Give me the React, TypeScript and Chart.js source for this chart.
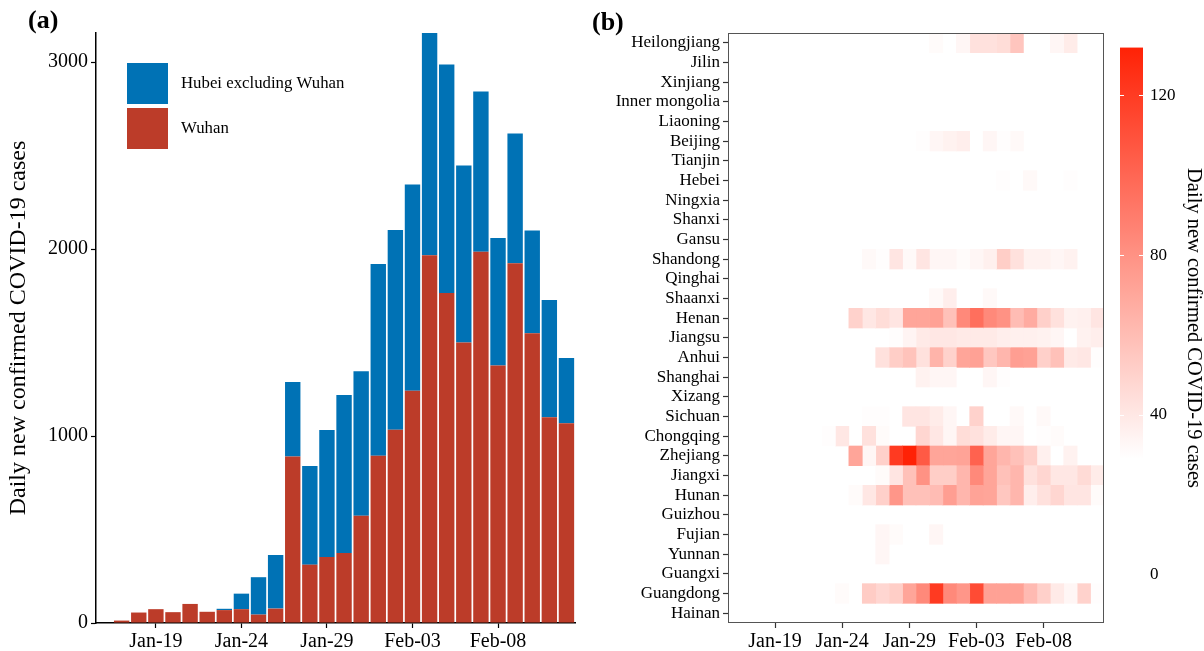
import React, { useEffect, useRef } from "react";
import { Chart, registerables } from "chart.js";

Chart.register(...registerables);

const FONT = "'Liberation Serif', 'DejaVu Serif', 'Times New Roman', serif";
Chart.defaults.font.family = FONT;
Chart.defaults.color = "#000";

// ---------- Panel (a) data ----------
const DATES = [
  "Jan-16", "Jan-17", "Jan-18", "Jan-19", "Jan-20", "Jan-21", "Jan-22",
  "Jan-23", "Jan-24", "Jan-25", "Jan-26", "Jan-27", "Jan-28", "Jan-29",
  "Jan-30", "Jan-31", "Feb-01", "Feb-02", "Feb-03", "Feb-04", "Feb-05",
  "Feb-06", "Feb-07", "Feb-08", "Feb-09", "Feb-10", "Feb-11", "Feb-12",
];
const TICK_DATES = ["Jan-19", "Jan-24", "Jan-29", "Feb-03", "Feb-08"];
const Y_TICKS_A = [0, 1000, 2000, 3000];
const Y_MAX_A = 3156;

const WUHAN = [0, 13, 56, 74, 58, 102, 60, 69, 74, 45, 77, 891, 312, 353, 375, 574, 895, 1034, 1242, 1967, 1765, 1500, 1986, 1377, 1924, 1550, 1101, 1069];
const HUBEI_EXCL_WUHAN = [0, 0, 0, 0, 0, 0, 0, 7, 83, 200, 287, 398, 528, 679, 845, 773, 1025, 1068, 1104, 1189, 1222, 947, 857, 682, 694, 549, 627, 348];

// ---------- Panel (b) data ----------
const PROVINCES = [
  "Heilongjiang", "Jilin", "Xinjiang", "Inner mongolia", "Liaoning", "Beijing",
  "Tianjin", "Hebei", "Ningxia", "Shanxi", "Gansu", "Shandong", "Qinghai",
  "Shaanxi", "Henan", "Jiangsu", "Anhui", "Shanghai", "Xizang", "Sichuan",
  "Chongqing", "Zhejiang", "Jiangxi", "Hunan", "Guizhou", "Fujian", "Yunnan",
  "Guangxi", "Guangdong", "Hainan",
];

const HEILONGJIANG = [0, 0, 0, 0, 0, 0, 0, 0, 0, 0, 0, 0, 0, 0, 0, 31, 0, 33, 43, 43, 45, 56, 0, 0, 33, 38, 0, 0];
const JILIN = [0, 0, 0, 0, 0, 0, 0, 0, 0, 0, 0, 0, 0, 0, 0, 0, 0, 0, 0, 0, 0, 0, 0, 0, 0, 0, 0, 0];
const XINJIANG = [0, 0, 0, 0, 0, 0, 0, 0, 0, 0, 0, 0, 0, 0, 0, 0, 0, 0, 0, 0, 0, 0, 0, 0, 0, 0, 0, 0];
const INNER_MONGOLIA = [0, 0, 0, 0, 0, 0, 0, 0, 0, 0, 0, 0, 0, 0, 0, 0, 0, 0, 0, 0, 0, 0, 0, 0, 0, 0, 0, 0];
const LIAONING = [0, 0, 0, 0, 0, 0, 0, 0, 0, 0, 0, 0, 0, 0, 0, 0, 0, 0, 0, 0, 0, 0, 0, 0, 0, 0, 0, 0];
const BEIJING = [0, 0, 0, 0, 0, 0, 0, 0, 0, 0, 0, 0, 0, 0, 30, 33, 35, 37, 0, 33, 30, 32, 0, 0, 0, 0, 0, 0];
const TIANJIN = [0, 0, 0, 0, 0, 0, 0, 0, 0, 0, 0, 0, 0, 0, 0, 0, 0, 0, 0, 0, 0, 0, 0, 0, 0, 0, 0, 0];
const HEBEI = [0, 0, 0, 0, 0, 0, 0, 0, 0, 0, 0, 0, 0, 0, 0, 0, 0, 0, 0, 0, 30, 0, 32, 0, 0, 30, 0, 0];
const NINGXIA = [0, 0, 0, 0, 0, 0, 0, 0, 0, 0, 0, 0, 0, 0, 0, 0, 0, 0, 0, 0, 0, 0, 0, 0, 0, 0, 0, 0];
const SHANXI = [0, 0, 0, 0, 0, 0, 0, 0, 0, 0, 0, 0, 0, 0, 0, 0, 0, 0, 0, 0, 0, 0, 0, 0, 0, 0, 0, 0];
const GANSU = [0, 0, 0, 0, 0, 0, 0, 0, 0, 0, 0, 0, 0, 0, 0, 0, 0, 0, 0, 0, 0, 0, 0, 0, 0, 0, 0, 0];
const SHANDONG = [0, 0, 0, 0, 0, 0, 0, 0, 0, 0, 32, 30, 41, 32, 41, 33, 33, 31, 33, 36, 52, 43, 35, 35, 33, 35, 0, 0];
const QINGHAI = [0, 0, 0, 0, 0, 0, 0, 0, 0, 0, 0, 0, 0, 0, 0, 0, 0, 0, 0, 0, 0, 0, 0, 0, 0, 0, 0, 0];
const SHAANXI = [0, 0, 0, 0, 0, 0, 0, 0, 0, 0, 0, 0, 0, 0, 0, 32, 37, 0, 0, 32, 0, 0, 0, 0, 0, 0, 0, 0];
const HENAN = [0, 0, 0, 0, 0, 0, 0, 0, 0, 50, 40, 45, 41, 71, 71, 73, 58, 84, 96, 84, 80, 60, 68, 51, 43, 35, 36, 41];
const JIANGSU = [0, 0, 0, 0, 0, 0, 0, 0, 0, 0, 0, 0, 30, 34, 39, 40, 40, 39, 39, 39, 37, 36, 36, 35, 33, 0, 35, 37];
const ANHUI = [0, 0, 0, 0, 0, 0, 0, 0, 0, 0, 0, 43, 52, 57, 43, 64, 50, 71, 73, 55, 63, 74, 73, 51, 58, 39, 40, 30];
const SHANGHAI = [0, 0, 0, 0, 0, 0, 0, 0, 0, 0, 0, 0, 0, 0, 35, 33, 33, 0, 0, 33, 30, 0, 0, 0, 0, 0, 0, 0];
const XIZANG = [0, 0, 0, 0, 0, 0, 0, 0, 0, 0, 0, 0, 0, 0, 0, 0, 0, 0, 0, 0, 0, 0, 0, 0, 0, 0, 0, 0];
const SICHUAN = [0, 0, 0, 0, 0, 0, 0, 0, 0, 0, 30, 30, 0, 41, 41, 38, 33, 0, 50, 0, 0, 32, 0, 32, 0, 0, 0, 0];
const CHONGQING = [0, 0, 0, 0, 0, 0, 0, 30, 40, 0, 43, 31, 0, 0, 48, 40, 33, 45, 43, 38, 33, 33, 0, 30, 31, 0, 0, 0];
const ZHEJIANG = [0, 0, 0, 0, 0, 0, 0, 0, 0, 71, 33, 51, 121, 133, 106, 71, 71, 72, 102, 71, 63, 58, 51, 36, 0, 35, 0, 0];
const JIANGXI = [0, 0, 0, 0, 0, 0, 0, 0, 0, 0, 0, 31, 41, 58, 80, 52, 52, 63, 84, 71, 58, 63, 43, 48, 40, 40, 46, 38];
const HUNAN = [0, 0, 0, 0, 0, 0, 0, 0, 0, 31, 40, 51, 78, 58, 58, 60, 74, 63, 72, 71, 55, 63, 37, 43, 48, 41, 41, 31];
const GUIZHOU = [0, 0, 0, 0, 0, 0, 0, 0, 0, 0, 0, 0, 0, 0, 0, 0, 0, 0, 0, 0, 0, 0, 0, 0, 0, 0, 0, 0];
const FUJIAN = [0, 0, 0, 0, 0, 0, 0, 0, 0, 0, 0, 33, 31, 0, 0, 33, 0, 0, 0, 0, 0, 0, 0, 0, 0, 0, 0, 0];
const YUNNAN = [0, 0, 0, 0, 0, 0, 0, 0, 0, 0, 0, 33, 0, 0, 0, 0, 0, 0, 0, 0, 0, 0, 0, 0, 0, 0, 0, 0];
const GUANGXI = [0, 0, 0, 0, 0, 0, 0, 0, 0, 0, 0, 0, 0, 0, 0, 0, 0, 0, 0, 0, 0, 0, 0, 0, 0, 0, 0, 0];
const GUANGDONG = [0, 0, 0, 0, 0, 0, 0, 0, 31, 0, 53, 48, 52, 71, 84, 121, 84, 78, 113, 73, 73, 73, 61, 51, 39, 33, 50, 30];
const HAINAN = [0, 0, 0, 0, 0, 0, 0, 0, 0, 0, 0, 0, 0, 0, 0, 0, 0, 0, 0, 0, 0, 0, 0, 0, 0, 0, 0, 0];

const PROVINCE_VALUES = [
  HEILONGJIANG, JILIN, XINJIANG, INNER_MONGOLIA, LIAONING, BEIJING, TIANJIN,
  HEBEI, NINGXIA, SHANXI, GANSU, SHANDONG, QINGHAI, SHAANXI, HENAN, JIANGSU,
  ANHUI, SHANGHAI, XIZANG, SICHUAN, CHONGQING, ZHEJIANG, JIANGXI, HUNAN,
  GUIZHOU, FUJIAN, YUNNAN, GUANGXI, GUANGDONG, HAINAN,
];

const CBAR_TICKS = [0, 40, 80, 120];
const CBAR_LOW = 29;
const CBAR_HIGH = 132;
const CBAR_AXIS_MIN = -12.15;
const CBAR_AXIS_MAX = 135.65;

// ---------- helpers ----------
const HIGH_RGB = [255, 34, 6];
function colorAt(t: number): string {
  const c = Math.max(0, Math.min(1, t));
  const r = Math.round(255 + (HIGH_RGB[0] - 255) * c);
  const g = Math.round(255 + (HIGH_RGB[1] - 255) * c);
  const b = Math.round(255 + (HIGH_RGB[2] - 255) * c);
  return `rgb(${r},${g},${b})`;
}
function heatColor(v: number): string {
  if (!v || v <= CBAR_LOW) return "rgba(255,255,255,0)";
  return colorAt((v - CBAR_LOW) / (CBAR_HIGH - CBAR_LOW));
}

const zeroPad = (s: any) => {
  s.paddingTop = 0;
  s.paddingBottom = 0;
  s.paddingLeft = 0;
  s.paddingRight = 0;
};

function panelLabel(text: string, x: number, y: number) {
  return {
    id: "panelLabel",
    afterDraw(chart: any) {
      const ctx = chart.ctx;
      ctx.save();
      ctx.font = `bold 26px ${FONT}`;
      ctx.fillStyle = "#000";
      ctx.textBaseline = "middle";
      ctx.textAlign = "left";
      ctx.fillText(text, x, y);
      ctx.restore();
    },
  };
}

const insideLegend = {
  id: "insideLegend",
  afterDraw(chart: any) {
    const ctx = chart.ctx;
    const items = [...chart.data.datasets].reverse();
    ctx.save();
    ctx.font = `16.8px ${FONT}`;
    ctx.textBaseline = "middle";
    ctx.textAlign = "left";
    items.forEach((ds: any, i: number) => {
      const y = 63 + i * 45;
      ctx.fillStyle = ds.backgroundColor;
      ctx.fillRect(127, y, 41, 41);
      ctx.fillStyle = "#000";
      ctx.fillText(ds.label, 181, y + 20.5);
    });
    ctx.restore();
  },
};

const panelBox = {
  id: "panelBox",
  afterDatasetsDraw(chart: any) {
    const { ctx, chartArea } = chart;
    ctx.save();
    ctx.strokeStyle = "#555";
    ctx.lineWidth = 1;
    ctx.strokeRect(
      Math.round(chartArea.left) + 0.5,
      Math.round(chartArea.top) + 0.5,
      Math.round(chartArea.right - chartArea.left) - 1,
      Math.round(chartArea.bottom - chartArea.top) - 1
    );
    ctx.restore();
  },
};

// keep the colour-bar axis spanning exactly the panel height
const cbarSpan = {
  id: "cbarSpan",
  afterLayout(chart: any) {
    const s = chart.scales.cbar;
    if (!s) return;
    s.top = chart.chartArea.top;
    s.bottom = chart.chartArea.bottom;
    s.height = s.bottom - s.top;
    s.configure();
  },
};

const colorBar = {
  id: "colorBar",
  afterDraw(chart: any) {
    const { ctx, chartArea } = chart;
    const s = chart.scales.cbar;
    const x0 = chartArea.right + 16;
    const w = 23;
    const yTop = s.getPixelForValue(CBAR_HIGH);
    const yBot = s.getPixelForValue(CBAR_LOW);
    const g = ctx.createLinearGradient(0, yBot, 0, yTop);
    for (let k = 0; k <= 20; k++) g.addColorStop(k / 20, colorAt(k / 20));
    ctx.save();
    ctx.fillStyle = g;
    ctx.fillRect(x0, yTop, w, yBot - yTop);
    ctx.strokeStyle = "#fff";
    ctx.lineWidth = 1;
    CBAR_TICKS.filter((v) => v > CBAR_LOW && v < CBAR_HIGH).forEach((v) => {
      const y = Math.round(s.getPixelForValue(v)) + 0.5;
      ctx.beginPath();
      ctx.moveTo(x0, y);
      ctx.lineTo(x0 + 4, y);
      ctx.moveTo(x0 + w - 4, y);
      ctx.lineTo(x0 + w, y);
      ctx.stroke();
    });
    ctx.restore();
  },
};

export default function App() {
  const refA = useRef<HTMLCanvasElement>(null);
  const refB = useRef<HTMLCanvasElement>(null);

  useEffect(() => {
    const chartA = new Chart(refA.current as HTMLCanvasElement, {
      type: "bar",
      data: {
        labels: DATES,
        datasets: [
          { label: "Wuhan", data: WUHAN, backgroundColor: "#BC3C29", stack: "s" },
          { label: "Hubei excluding Wuhan", data: HUBEI_EXCL_WUHAN, backgroundColor: "#0072B5", stack: "s" },
        ],
      },
      options: {
        animation: false,
        responsive: false,
        maintainAspectRatio: false,
        layout: { padding: { top: 33, right: 15, left: 0, bottom: 0 } },
        datasets: { bar: { barPercentage: 1, categoryPercentage: 0.9 } },
        plugins: { legend: { display: false }, tooltip: { enabled: false } },
        scales: {
          x: {
            stacked: true,
            grid: { display: true, drawOnChartArea: false, offset: false, tickLength: 5, tickColor: "#000", tickWidth: 1.2 },
            border: { display: true, color: "#000", width: 1.5 },
            ticks: { font: { size: 20 }, color: "#000", padding: 2, autoSkip: false, maxRotation: 0 },
            afterBuildTicks: (s: any) => {
              s.ticks = s.ticks.filter((t: any) => TICK_DATES.includes(DATES[t.value]));
            },
            afterFit: (s: any) => {
              s.height = 28;
              zeroPad(s);
            },
          },
          y: {
            stacked: true,
            min: 0,
            max: Y_MAX_A,
            grid: { display: true, drawOnChartArea: false, tickLength: 5, tickColor: "#000", tickWidth: 1.2 },
            border: { display: true, color: "#000", width: 1.5 },
            ticks: { font: { size: 20 }, color: "#000", padding: 3, callback: (v: any) => String(v) },
            title: {
              display: true,
              text: "Daily new confirmed COVID-19 cases",
              font: { size: 24 },
              color: "#000",
              padding: { top: 4, bottom: 0 },
            },
            afterBuildTicks: (s: any) => {
              s.ticks = Y_TICKS_A.map((v) => ({ value: v }));
            },
            afterFit: (s: any) => {
              s.width = 96;
              zeroPad(s);
            },
          },
        },
      },
      plugins: [insideLegend, panelLabel("(a)", 28, 21)],
    } as any);

    const heatDatasets = DATES.map((d, j) => ({
      label: d,
      data: PROVINCE_VALUES.map((vals) => (vals[j] > 0 ? [j - 0.5, j + 0.5] : null)),
      backgroundColor: PROVINCE_VALUES.map((vals) => heatColor(vals[j])),
      borderWidth: 0,
      grouped: false,
      barPercentage: 1,
      categoryPercentage: 1,
      xAxisID: "x",
      yAxisID: "y",
    }));

    const chartB = new Chart(refB.current as HTMLCanvasElement, {
      type: "bar",
      data: { labels: PROVINCES, datasets: heatDatasets },
      options: {
        indexAxis: "y",
        animation: false,
        responsive: false,
        maintainAspectRatio: false,
        layout: { padding: { top: 33, right: 0, left: 0, bottom: 0 } },
        plugins: { legend: { display: false }, tooltip: { enabled: false } },
        scales: {
          x: {
            type: "linear",
            position: "bottom",
            min: -0.5,
            max: DATES.length - 0.5,
            grid: { display: true, drawOnChartArea: false, tickLength: 5, tickColor: "#333", tickWidth: 1.2 },
            border: { display: false },
            ticks: {
              font: { size: 20 },
              color: "#000",
              padding: 2,
              maxRotation: 0,
              autoSkip: false,
              callback: (v: any) => DATES[Math.round(Number(v))],
            },
            afterBuildTicks: (s: any) => {
              s.ticks = TICK_DATES.map((d) => ({ value: DATES.indexOf(d) }));
            },
            afterFit: (s: any) => {
              s.height = 28;
              zeroPad(s);
            },
          },
          y: {
            type: "category",
            position: "left",
            grid: { display: true, drawOnChartArea: false, offset: false, tickLength: 5, tickColor: "#333", tickWidth: 1.2 },
            border: { display: false },
            ticks: { font: { size: 17 }, color: "#000", padding: 3, autoSkip: false },
            afterFit: (s: any) => {
              s.width = 138;
              zeroPad(s);
            },
          },
          cbar: {
            type: "linear",
            axis: "y",
            position: "right",
            offset: false,
            min: CBAR_AXIS_MIN,
            max: CBAR_AXIS_MAX,
            grid: {
              display: true,
              drawOnChartArea: false,
              drawTicks: true,
              tickLength: 42,
              color: "rgba(0,0,0,0)",
              tickColor: "rgba(0,0,0,0)",
            },
            border: { display: false },
            ticks: { font: { size: 17 }, color: "#000", padding: 4 },
            title: {
              display: true,
              text: "Daily new confirmed COVID-19 cases",
              font: { size: 20.5, lineHeight: 1 },
              color: "#000",
              padding: { top: 0, bottom: 0 },
            },
            afterBuildTicks: (s: any) => {
              s.ticks = CBAR_TICKS.map((v) => ({ value: v }));
            },
            afterFit: (s: any) => {
              s.width = 100;
              zeroPad(s);
            },
          },
        },
      },
      plugins: [cbarSpan, panelBox, colorBar, panelLabel("(b)", 2, 23)],
    } as any);

    return () => {
      chartA.destroy();
      chartB.destroy();
    };
  }, []);

  return (
    <div style={{ position: "absolute", left: 0, top: 0, width: 1204, height: 651, background: "#fff" }}>
      <canvas
        ref={refA}
        width={590}
        height={651}
        style={{ position: "absolute", left: 0, top: 0, width: 590, height: 651 }}
      />
      <canvas
        ref={refB}
        width={614}
        height={651}
        style={{ position: "absolute", left: 590, top: 0, width: 614, height: 651 }}
      />
    </div>
  );
}
